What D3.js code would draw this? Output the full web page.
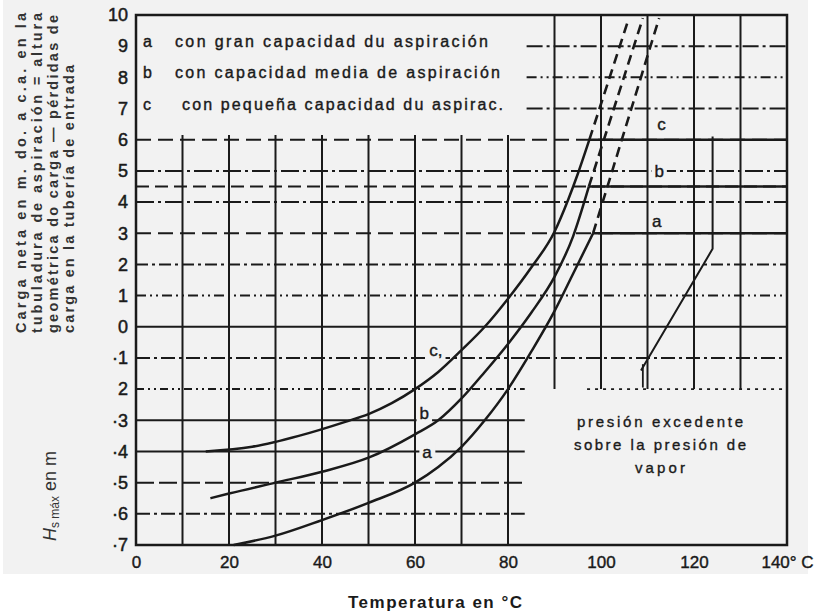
<!DOCTYPE html>
<html><head><meta charset="utf-8">
<script src="https://cdn.jsdelivr.net/npm/d3@7"></script>
<style>
body{margin:0;background:#fff;}
svg{display:block;font-family:"Liberation Sans",Arial,sans-serif;}
</style></head>
<body><svg id="c" width="829" height="615"></svg>
<script>
// ---------- data ----------
const xTicks=[0,20,40,60,80,100,120,140];
const xTickLabels=["0","20","40","60","80","100","120","140° C"];
const yTicks=[10,9,8,7,6,5,4,3,2,1,0,-1,-2,-3,-4,-5,-6,-7];
const yTickLabels=["10","9","8","7","6","5","4","3","2","1","0","·1","2","·3","·4","·5","·6","·7"];
const vGridLow=[10,20,30,40,50,60,70,80];
const vGridHigh=[90,100,110,120,130];
const hGridFull=[6,5,4.5,4,3,2,1,0,-1];
const hGridTop=[9,8,7];
const hGridLow=[-3,-4,-5,-6];
const curveA=[[21,-7.0],[30,-6.7],[40,-6.2],[50,-5.65],[60,-5.0],[65,-4.5],[70,-3.85],[75,-3.0],[80,-2.0],[85,-0.8],[90,0.5],[94,1.7],[98.3,3.0]];
const curveB=[[16,-5.5],[20,-5.35],[30,-5.0],[40,-4.65],[50,-4.2],[60,-3.45],[65,-3.0],[70,-2.3],[75,-1.45],[80,-0.55],[85,0.45],[90,1.6],[94,2.9],[97.4,4.5]];
const curveC=[[15,-4.0],[25,-3.85],[35,-3.5],[45,-3.05],[50,-2.8],[55,-2.45],[60,-2.0],[65,-1.45],[70,-0.75],[75,0.0],[80,0.9],[85,1.9],[90,3.05],[93,4.1],[95,4.9],[97.5,6.0]];
const plateauEnd=140;
const dashTopA=[112.5,9.9], dashTopB=[109,9.9], dashTopC=[106,9.9];
const excessLine=[[124,6.1],[124,2.5],[108.6,-1.4]];
const excessTick=[[109,-1.2],[109,-1.95]];
const legendKeys=["a","b","c"];
const legendTexts=["con gran capacidad du aspiración","con capacidad media de aspiración","con pequeña capacidad du aspirac."];
const yTitleLines=["Carga neta en m. do. a c.a. en la","tubuladura de aspiración = altura","geométrica do carga — pérdidas de","carga en la tubería de entrada"];
const noteLines=["presión excedente","sobre la presión de","vapor"];

// ---------- setup ----------
const svg=d3.select("#c");
const x=d3.scaleLinear().domain([0,140]).range([136,787]);
const y=d3.scaleLinear().domain([-7,10]).range([545,15]);
const ink="#1a1a1a", bg="#f2f2f2";
svg.append("rect").attr("x",3).attr("y",0).attr("width",805).attr("height",574).attr("fill",bg);

const g=svg.append("g");
function hline(v,t0,t1,dash,w){
  g.append("line").attr("x1",x(t0)).attr("x2",x(t1)).attr("y1",y(v)).attr("y2",y(v))
   .attr("stroke",ink).attr("stroke-width",w||2).attr("stroke-dasharray",dash||null);
}
function vline(t,v0,v1,w){
  g.append("line").attr("x1",x(t)).attr("x2",x(t)).attr("y1",y(v0)).attr("y2",y(v1))
   .attr("stroke",ink).attr("stroke-width",w||2);
}
// horizontal grid styles by level
const hStyle={"9":"16,4,3,4","8":"10,4,2,4,2,4","7":"16,4,3,4","6":"15,7","5":"18,4,3,4","4.5":"13,6","4":"18,4,3,4","3":"15,7","2":"12,4,3,4","1":"10,4,2,4,2,4","0":null,"-1":"14,4,3,4","-2":"8,4,2,4,2,4","-3":null,"-4":null,"-5":"18,5","-6":"14,4,3,4"};
hGridTop.forEach(v=>hline(v,84,140,hStyle[v]));
hGridFull.forEach(v=>hline(v,0,140,hStyle[v]));
hline(-2,0,83.6,hStyle["-2"]); hline(-2,97,140,"3,5",1.6);
hGridLow.forEach(v=>hline(v,0,83.6,hStyle[v]));
vGridLow.forEach(t=>vline(t,-7,6.15));
vGridHigh.forEach(t=>vline(t,10,-2));

// frame
svg.append("rect").attr("x",x(0)).attr("y",y(10)).attr("width",x(140)-x(0)).attr("height",y(-7)-y(10))
  .attr("fill","none").attr("stroke",ink).attr("stroke-width",2.5);

// curves
const line=d3.line().x(d=>x(d[0])).y(d=>y(d[1])).curve(d3.curveMonotoneX);
const straight=d3.line().x(d=>x(d[0])).y(d=>y(d[1]));
[[curveA,dashTopA],[curveB,dashTopB],[curveC,dashTopC]].forEach(([c,top])=>{
  const end=c[c.length-1];
  svg.append("path").attr("d",line(c)).attr("fill","none").attr("stroke",ink).attr("stroke-width",2.5);
  svg.append("path").attr("d",straight([end,[plateauEnd,end[1]]])).attr("fill","none").attr("stroke",ink).attr("stroke-width",2.5);
  svg.append("path").attr("d",straight([end,top])).attr("fill","none").attr("stroke",ink).attr("stroke-width",2.6).attr("stroke-dasharray","10,6");
});
svg.append("path").attr("d",straight(excessLine)).attr("fill","none").attr("stroke",ink).attr("stroke-width",2);
svg.append("path").attr("d",straight(excessTick)).attr("fill","none").attr("stroke",ink).attr("stroke-width",1.8);

// labels with background
function label(txt,px,py,size){
  const t=svg.append("text").attr("x",px).attr("y",py).attr("font-size",size||16).attr("fill",ink)
    .attr("stroke",ink).attr("stroke-width",0.4).attr("text-anchor","middle").text(txt);
  const b=t.node().getBBox();
  svg.insert("rect","text").attr("x",b.x-3).attr("y",b.y).attr("width",b.width+6).attr("height",b.height).attr("fill",bg);
}
label("c,",x(64.5),y(-0.95),17);
label("b",x(62),y(-2.95),17);
label("a",x(62.6),y(-4.2),17);
label("c",x(113),y(6.3),17);
label("b",x(112.5),y(4.8),17);
label("a",x(112),y(3.2),17);

// axes
const ax=svg.append("g").attr("transform","translate(0,553)")
  .call(d3.axisBottom(x).tickValues(xTicks).tickSize(0).tickFormat((d,i)=>xTickLabels[i]));
ax.select(".domain").remove();
ax.selectAll("text").attr("font-size",17).attr("fill",ink).attr("stroke",ink).attr("stroke-width",0.4)
  .attr("font-family","Liberation Sans, Arial, sans-serif");
const ay=svg.append("g").attr("transform","translate(136,0)")
  .call(d3.axisLeft(y).tickValues(yTicks).tickSize(0).tickPadding(8).tickFormat((d,i)=>yTickLabels[i]));
ay.select(".domain").remove();
ay.selectAll("text").attr("font-size",18).attr("fill",ink).attr("stroke",ink).attr("stroke-width",0.5)
  .attr("font-family","Liberation Sans, Arial, sans-serif");

// legend
const legY=[47,78,110], legX=[175,175,182], legW=[313,325,321];
legendKeys.forEach((k,i)=>{
  svg.append("text").attr("x",143).attr("y",legY[i]).attr("font-size",16).attr("fill",ink)
    .attr("stroke",ink).attr("stroke-width",0.4).text(k);
  svg.append("text").attr("x",legX[i]).attr("y",legY[i]).attr("font-size",16).attr("fill",ink)
    .attr("stroke",ink).attr("stroke-width",0.4)
    .attr("textLength",legW[i]).attr("lengthAdjust","spacing").text(legendTexts[i]);
});

// note
const noteY=[427,450,473], noteW=[166,172,50];
noteLines.forEach((s,i)=>svg.append("text").attr("x",660).attr("y",noteY[i]).attr("text-anchor","middle")
  .attr("font-size",15).attr("fill",ink).attr("stroke",ink).attr("stroke-width",0.35)
  .attr("textLength",noteW[i]).attr("lengthAdjust","spacing").text(s));

// y title
const colX=[26,42,58,74], colW=[320,320,318,268];
yTitleLines.forEach((s,i)=>svg.append("text").attr("transform",`translate(${colX[i]},333) rotate(-90)`)
  .attr("font-size",14.5).attr("font-weight","bold").attr("fill","#333").attr("textLength",colW[i]).attr("lengthAdjust","spacing").text(s));
const hs=svg.append("text").attr("transform","translate(56,541) rotate(-90)").attr("font-size",18).attr("fill","#333");
hs.append("tspan").attr("font-style","italic").text("H");
hs.append("tspan").attr("font-size",12).attr("dy",3).text("s máx");
hs.append("tspan").attr("dy",-3).text(" en m");

// x title
svg.append("text").attr("x",435).attr("y",608).attr("text-anchor","middle").attr("font-size",17).attr("font-weight","bold")
  .attr("fill",ink).attr("textLength",174).attr("lengthAdjust","spacing").text("Temperatura en °C");
</script></body></html>
